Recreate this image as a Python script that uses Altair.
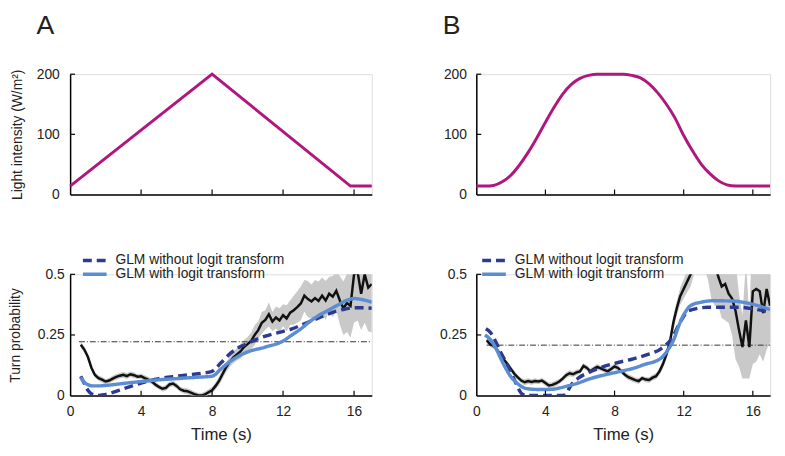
import altair as alt
import pandas as pd

FONT = "Liberation Sans"
TXT = "#222222"
MAGENTA = "#B0177E"
NAVY = "#2E3A8F"
LIGHTBLUE = "#5B8DD3"
GRAY = "#C9C9C9"

# ---------------- top panels: light intensity ----------------
lightA_t = [0, 8, 15.8, 17]
lightA_v = [14, 200, 14, 14]

lightB_t = [0, 0.5, 1, 1.5, 2, 2.5, 3, 3.5, 4, 4.5, 5, 5.5, 6, 6.5, 7, 7.5, 8, 8.5,
            9, 9.5, 10, 10.5, 11, 11.5, 12, 12.5, 13, 13.5, 14, 14.5, 15, 15.5, 16, 16.5, 17]
lightB_v = [14, 14, 15, 21, 32, 49, 70, 94, 120, 145, 167, 183, 193, 198, 200, 200, 200, 200,
            198, 194, 184, 169, 150, 127, 98, 73, 51, 35, 23, 16, 14, 14, 14, 14, 14]

# ---------------- bottom panels: turn probability ----------------
# observed data, sampled every 0.2 s from 0.6 s to 17 s
obs_start, obs_step = 0.6, 0.2
dataA = [0.21, 0.19, 0.16, 0.115, 0.085, 0.072, 0.066, 0.058, 0.062, 0.07,
         0.077, 0.082, 0.086, 0.08, 0.088, 0.084, 0.078, 0.08, 0.072, 0.066,
         0.058, 0.046, 0.036, 0.028, 0.032, 0.046, 0.05, 0.04, 0.026, 0.02,
         0.018, 0.012, 0.006, 0.002, 0.0, 0.005, 0.014, 0.022, 0.04, 0.062,
         0.09, 0.118, 0.14, 0.158, 0.17, 0.182, 0.2, 0.212, 0.225, 0.25,
         0.27, 0.3, 0.312, 0.335, 0.305, 0.322, 0.31, 0.332, 0.318, 0.342,
         0.352, 0.365, 0.38, 0.412, 0.398, 0.388, 0.402, 0.39, 0.412, 0.392,
         0.42, 0.408, 0.432, 0.392, 0.36, 0.382, 0.37, 0.5, 0.51, 0.42,
         0.5, 0.445, 0.46]
ciA = [0.012, 0.012, 0.011, 0.012, 0.01, 0.011, 0.012, 0.01, 0.011, 0.012,
       0.012, 0.011, 0.012, 0.012, 0.011, 0.012, 0.01, 0.011, 0.012, 0.012,
       0.011, 0.012, 0.01, 0.011, 0.012, 0.012, 0.011, 0.012, 0.01, 0.011,
       0.012, 0.012, 0.011, 0.01, 0.011, 0.012, 0.012, 0.013, 0.015, 0.018,
       0.02, 0.02, 0.022, 0.025, 0.025, 0.03, 0.028, 0.03, 0.035, 0.04,
       0.035, 0.045, 0.04, 0.05, 0.04, 0.045, 0.05, 0.045, 0.055, 0.05,
       0.06, 0.065, 0.07, 0.065, 0.075, 0.07, 0.075, 0.08, 0.075, 0.08,
       0.07, 0.085, 0.08, 0.1, 0.11, 0.12, 0.13, 0.2, 0.2, 0.15,
       0.2, 0.18, 0.2]
dataB = [0.228, 0.212, 0.205, 0.19, 0.168, 0.148, 0.13, 0.11, 0.09, 0.075,
         0.062, 0.055, 0.06, 0.056, 0.06, 0.058, 0.062, 0.052, 0.042, 0.044,
         0.05, 0.058, 0.07, 0.084, 0.092, 0.088, 0.096, 0.1, 0.122, 0.114,
         0.1, 0.11, 0.118, 0.112, 0.106, 0.1, 0.11, 0.12, 0.114, 0.1,
         0.086, 0.076, 0.07, 0.064, 0.06, 0.072, 0.066, 0.064, 0.074, 0.08,
         0.1, 0.13, 0.17, 0.22, 0.3, 0.36, 0.41, 0.44, 0.47, 0.5,
         0.56, 0.6, 0.62, 0.64, 0.63, 0.6, 0.55, 0.49, 0.45, 0.46,
         0.42, 0.4, 0.35, 0.27, 0.2, 0.31, 0.2, 0.43, 0.44, 0.43,
         0.34, 0.44, 0.37]
ciB = [0.012, 0.011, 0.012, 0.01, 0.011, 0.012, 0.012, 0.011, 0.012, 0.01,
       0.011, 0.012, 0.012, 0.011, 0.012, 0.01, 0.011, 0.012, 0.012, 0.011,
       0.012, 0.01, 0.011, 0.012, 0.012, 0.011, 0.012, 0.01, 0.011, 0.012,
       0.012, 0.011, 0.012, 0.01, 0.011, 0.012, 0.012, 0.011, 0.012, 0.01,
       0.011, 0.012, 0.012, 0.011, 0.012, 0.01, 0.011, 0.012, 0.012, 0.013,
       0.015, 0.018, 0.02, 0.025, 0.03, 0.03, 0.035, 0.04, 0.045, 0.05,
       0.06, 0.08, 0.1, 0.12, 0.15, 0.2, 0.18, 0.12, 0.13, 0.15,
       0.12, 0.15, 0.2, 0.15, 0.13, 0.24, 0.13, 0.3, 0.3, 0.26,
       0.2, 0.25, 0.15]

# GLM fits
dashA_t = [0.6, 0.8, 1.0, 1.3, 1.6, 2.0, 2.5, 3, 3.5, 4, 4.5, 5, 6, 7, 7.5, 8, 8.5, 9,
           9.5, 10, 10.5, 11, 12, 12.5, 13, 13.5, 14, 14.5, 15, 15.5, 16, 16.5, 17]
dashA_v = [0.08, 0.05, 0.022, 0.004, 0.0, 0.005, 0.015, 0.028, 0.04, 0.052, 0.062, 0.07,
           0.08, 0.088, 0.093, 0.1, 0.135, 0.172, 0.198, 0.215, 0.232, 0.245, 0.265,
           0.275, 0.29, 0.305, 0.32, 0.335, 0.348, 0.357, 0.362, 0.362, 0.36]
solidA_t = [0.6, 0.8, 1.0, 1.3, 1.6, 2, 3, 4, 5, 6, 7, 8, 8.5, 9, 9.5, 10, 11, 12,
            12.5, 13, 13.5, 14, 14.5, 15, 15.5, 16, 16.5, 17]
solidA_v = [0.075, 0.055, 0.045, 0.04, 0.04, 0.042, 0.05, 0.058, 0.065, 0.07, 0.075,
            0.08, 0.11, 0.14, 0.163, 0.18, 0.2, 0.225, 0.25, 0.275, 0.305, 0.33, 0.35,
            0.37, 0.39, 0.4, 0.395, 0.385]
dashB_t = [0.55, 0.8, 1.14, 1.4, 1.7, 2.0, 2.25, 2.6, 2.9, 3.5, 4.2, 5.0, 5.2, 5.5, 5.9,
           6.4, 7.0, 8.0, 9.0, 9.8, 10.7, 11.3, 11.8, 12.3, 13.4, 15.2, 16.2, 17]
dashB_v = [0.276, 0.262, 0.22, 0.18, 0.14, 0.095, 0.058, 0.01, 0.0, 0.0, 0.0, 0.0, 0.01,
           0.045, 0.072, 0.092, 0.11, 0.133, 0.15, 0.167, 0.194, 0.235, 0.303, 0.35,
           0.364, 0.364, 0.355, 0.344]
solidB_t = [0.5, 0.8, 1.14, 1.4, 1.7, 2.0, 2.25, 2.5, 2.8, 3.3, 3.9, 4.4, 4.8, 5.3, 5.9,
            6.6, 7.4, 8.35, 9.2, 9.8, 10.3, 10.7, 11.1, 11.45, 11.7, 11.9, 12.1, 12.4,
            13.0, 13.7, 14.8, 15.9, 17]
solidB_v = [0.25, 0.232, 0.194, 0.155, 0.113, 0.078, 0.058, 0.043, 0.031, 0.026, 0.025,
            0.026, 0.031, 0.04, 0.052, 0.07, 0.085, 0.1, 0.115, 0.13, 0.14, 0.155, 0.19,
            0.235, 0.285, 0.32, 0.345, 0.371, 0.385, 0.391, 0.39, 0.378, 0.355]

# reference (dash-dot) levels
refA = {"t0": 0.5, "t1": 17, "level": 0.222}
refB = {"t0": 0.6, "t1": 17, "level": 0.208}

model_names = ["GLM without logit transform", "GLM with logit transform"]
model_colors = [NAVY, LIGHTBLUE]
model_dash = [[9, 5], [1, 0]]

x_ticks = [0, 4, 8, 12, 16]
x_inner_ticks = [4, 8, 12, 16]
top_y_ticks = [0, 100, 200]
top_inner_ticks = [100, 200]
bot_y_ticks = [0, 0.25, 0.5]
bot_inner_ticks = [0.25, 0.5]

TOP_H = 122
BOT_H = 123
WA = 306
WB = 298


def xaxis(labels, title):
    kw = dict(values=x_ticks, ticks=False, tickSize=0, grid=False, domainColor="black",
              domainWidth=1.5, labels=labels, labelFont=FONT, labelFontSize=14,
              labelColor=TXT, labelPadding=9, labelFlush=False)
    if title:
        kw.update(title=title, titleFont=FONT, titleFontSize=17, titleFontWeight="normal",
                  titleColor=TXT, titlePadding=9)
    else:
        kw.update(title=None)
    return alt.Axis(**kw)


def yaxis(values, fmt, pad, title, tpad):
    kw = dict(values=values, format=fmt, ticks=False, tickSize=0, grid=False,
              domainColor="black", domainWidth=1.5, labelFont=FONT, labelFontSize=14,
              labelColor=TXT, labelPadding=pad, labelFlush=False)
    if title:
        kw.update(title=title, titleFont=FONT, titleFontSize=14, titleFontWeight="normal",
                  titleColor=TXT, titlePadding=tpad)
    else:
        kw.update(title=None)
    return alt.Axis(**kw)


def top_panel(t, v, label, width, ytitle, pad, interp):
    df = pd.DataFrame({"t": t, "v": v})
    X = alt.X("t:Q", scale=alt.Scale(domain=[0, 17], nice=False, zero=False),
              axis=xaxis(False, None))
    Y = alt.Y("v:Q", scale=alt.Scale(domain=[0, 200], nice=False),
              axis=yaxis(top_y_ticks, "d", pad, ytitle, 12))
    line = alt.Chart(df).mark_line(color=MAGENTA, strokeWidth=3, interpolate=interp).encode(x=X, y=Y)
    xt = alt.Chart(pd.DataFrame({"t": x_inner_ticks})).mark_rule(color="black", strokeWidth=1.2).encode(
        x=X, y=alt.value(TOP_H), y2=alt.value(TOP_H - 5))
    yt = alt.Chart(pd.DataFrame({"v": top_inner_ticks})).mark_rule(color="black", strokeWidth=1.2).encode(
        y=Y, x=alt.value(0), x2=alt.value(5))
    return alt.layer(line, xt, yt).properties(
        width=width, height=TOP_H,
        title=alt.TitleParams(label, anchor="start", frame="group", font=FONT, fontSize=27,
                              fontWeight="normal", color=TXT, dx=-34, offset=28))


def bottom_panel(data, ci, dash_t, dash_v, solid_t, solid_v, ref, width, ytitle, pad, legx):
    n = len(data)
    tt = [round(obs_start + obs_step * i, 2) for i in range(n)]
    obs = pd.DataFrame({"t": tt, "p": data,
                        "lo": [d - c for d, c in zip(data, ci)],
                        "hi": [d + c for d, c in zip(data, ci)]})
    models = pd.concat([
        pd.DataFrame({"t": dash_t, "p": dash_v, "model": model_names[0]}),
        pd.DataFrame({"t": solid_t, "p": solid_v, "model": model_names[1]}),
    ])
    xsc = alt.Scale(domain=[0, 17], nice=False, zero=False)
    ysc = alt.Scale(domain=[0, 0.5], nice=False)
    X = alt.X("t:Q", scale=xsc, axis=xaxis(True, "Time (s)"))
    Y = alt.Y("p:Q", scale=ysc, axis=yaxis(bot_y_ticks, ".2~f", pad, ytitle, 15))
    band = alt.Chart(obs).mark_area(color=GRAY, opacity=1, clip=True).encode(
        x=X, y=alt.Y("lo:Q", scale=ysc, axis=yaxis(bot_y_ticks, ".2~f", pad, ytitle, 15)),
        y2="hi:Q")
    refdf = pd.DataFrame([ref])
    refline = alt.Chart(refdf).mark_rule(color="#333333", strokeWidth=1, strokeDash=[6, 2, 1, 2]).encode(
        x=alt.X("t0:Q", scale=xsc, axis=xaxis(True, "Time (s)")),
        x2="t1:Q",
        y=alt.Y("level:Q", scale=ysc, axis=yaxis(bot_y_ticks, ".2~f", pad, ytitle, 15)))
    black = alt.Chart(obs).mark_line(color="#111111", strokeWidth=2.5, clip=True).encode(x=X, y=Y)
    leg = alt.Legend(orient="none", legendX=legx, legendY=-21, direction="vertical", title=None,
                     symbolType="M-2.4,0H2.4", symbolSize=100, symbolStrokeWidth=3.5,
                     labelFont=FONT, labelFontSize=14, labelColor=TXT, labelOffset=14,
                     rowPadding=-2, padding=0, labelLimit=400)
    fits = alt.Chart(models).mark_line(strokeWidth=3.5, interpolate="monotone", clip=True).encode(
        x=X, y=Y,
        color=alt.Color("model:N", scale=alt.Scale(domain=model_names, range=model_colors), legend=leg),
        strokeDash=alt.StrokeDash("model:N", scale=alt.Scale(domain=model_names, range=model_dash), legend=leg),
        order=alt.Order("t:Q"))
    xt = alt.Chart(pd.DataFrame({"t": x_inner_ticks})).mark_rule(color="black", strokeWidth=1.2).encode(
        x=X, y=alt.value(BOT_H), y2=alt.value(BOT_H - 5))
    yt = alt.Chart(pd.DataFrame({"p": bot_inner_ticks})).mark_rule(color="black", strokeWidth=1.2).encode(
        y=Y, x=alt.value(0), x2=alt.value(5))
    return alt.layer(band, refline, black, fits, xt, yt).properties(width=width, height=BOT_H)


topA = top_panel(lightA_t, lightA_v, "A", WA, "Light intensity (W/m²)", 11, "linear")
topB = top_panel(lightB_t, lightB_v, "B", WB, None, 10, "monotone")
botA = bottom_panel(dataA, ciA, dashA_t, dashA_v, solidA_t, solidA_v, refA, WA,
                    "Turn probability", 6, 18)
botB = bottom_panel(dataB, ciB, dashB_t, dashB_v, solidB_t, solidB_v, refB, WB,
                    None, 10, 11)

chart = alt.concat(topA, topB, botA, botB, columns=2,
                   spacing={"row": 81, "column": 106}, bounds="flush").resolve_scale(
    color="independent", strokeDash="independent").resolve_legend(
    color="independent", strokeDash="independent").properties(
    padding={"left": 0, "top": 0, "right": 0, "bottom": 0}
).configure_view(stroke=None).configure(background="white")

chart.save("out.html", embed_options={"renderer": "svg", "actions": False})
